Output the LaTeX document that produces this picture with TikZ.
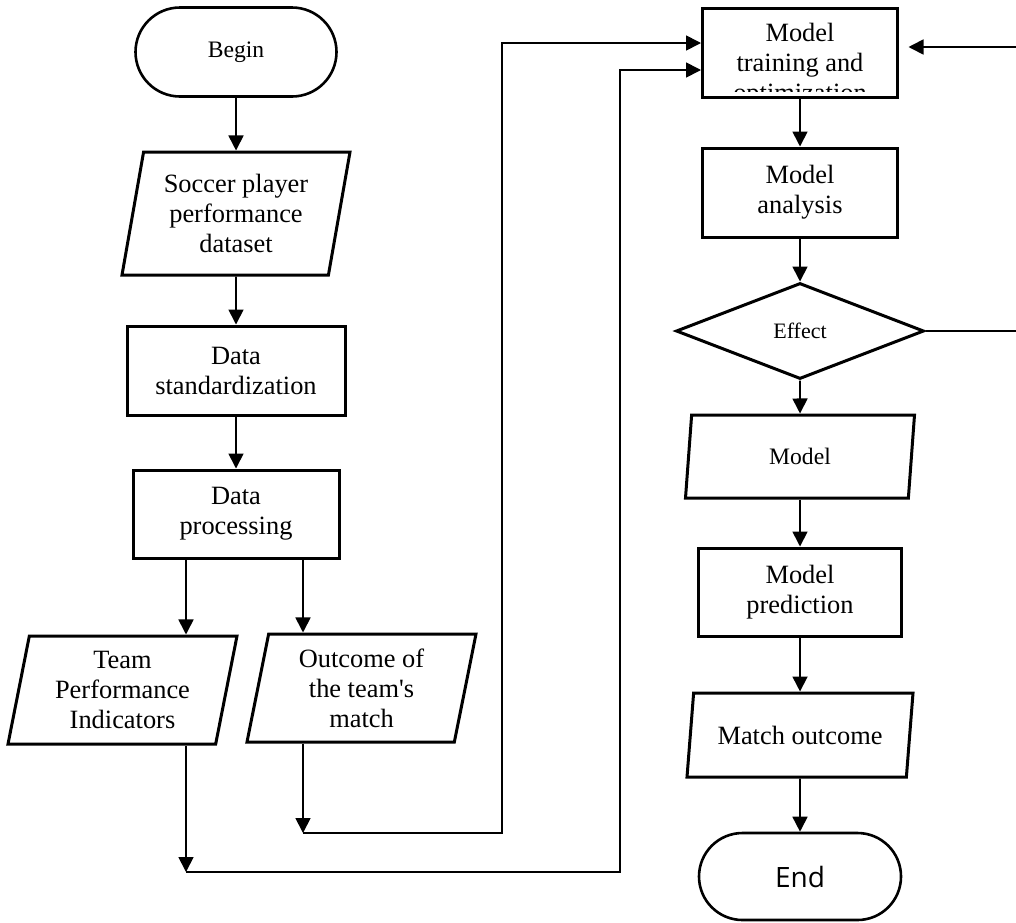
\documentclass[tikz,border=0pt]{standalone}
\usepackage{fontspec}
\setmainfont{Liberation Serif}
\newfontfamily\endfont{Open Sans}
\usetikzlibrary{arrows.meta,shapes.geometric,shapes.misc}
\tikzset{
  txtmain/.style  = {font=\fontsize{13.2}{15}\selectfont, align=center},
  txtsmall/.style = {font=\fontsize{11.8}{13}\selectfont, align=center},
  proc/.style     = {draw, line width=1.5pt, inner sep=2pt, txtmain},
  term/.style     = {draw, rounded rectangle, line width=1.3pt, inner sep=2pt},
  iobox/.style    = {draw, trapezium, trapezium left angle=76, trapezium right angle=104,
                     trapezium stretches body, line width=1.5pt, inner sep=2pt, txtmain},
  dec/.style      = {draw, diamond, line width=1.5pt, inner sep=0pt,
                     font=\fontsize{11}{13}\selectfont},
  ln/.style       = {line width=0.85pt},
  arr/.style      = {ln, -{Triangle[length=7.5pt,width=7.5pt]}},
}
\begin{document}
\begin{tikzpicture}[x=0.5pt, y=-0.5pt]
  \useasboundingbox (0,0) rectangle (1016,922);

  % --- data preparation column ---
  \node[term, txtsmall, minimum width=104.5pt, minimum height=44.5pt] (begin) at (236,52) {Begin};
  \node[iobox, minimum width=114pt, minimum height=61.5pt] (spd) at (236,213.5) {Soccer player\\performance\\dataset};
  \node[proc, minimum width=109pt, minimum height=44.5pt] (std) at (236,370.5) {Data\\standardization};
  \node[proc, minimum width=103pt, minimum height=44pt] (dp) at (236,514) {Data\\processing};
  \node[iobox, minimum width=114.5pt, minimum height=54pt] (tpi) at (122.5,690) {Team\\Performance\\Indicators};
  \node[iobox, minimum width=114.5pt, minimum height=54pt] (otm) at (361.5,688) {Outcome of\\the team\textquotesingle s\\match};

  \draw[arr] (begin) -- (spd);
  \draw[arr] (spd) -- (std);
  \draw[arr] (std) -- (dp);
  \draw[arr] ([xshift=-25pt]dp.south) -- ([xshift=-25pt]dp.south |- tpi.north);
  \draw[arr] ([xshift=33.5pt]dp.south) -- ([xshift=33.5pt]dp.south |- otm.north);

  % --- model column ---
  \node[proc, minimum width=97.5pt, minimum height=44.5pt] (mto) at (800,52.5) {};
  \begin{scope}
    \clip (mto.north west) rectangle ([yshift=3.5pt]mto.south east);
    \node[txtmain] (mtolbl) at ([yshift=-6.5pt]mto.center) {Model\\training and\\optimization};
  \end{scope}
  \node[proc, minimum width=97.5pt, minimum height=44.5pt] (man) at (800,192.5) {Model\\analysis};
  \node[dec, minimum width=124pt, minimum height=48pt] (eff) at (800,331) {Effect};
  \node[iobox, txtsmall, minimum width=114.5pt, minimum height=41.5pt] (mdl) at (800,456.5) {Model};
  \node[proc, minimum width=101.5pt, minimum height=44pt] (mpr) at (800,592) {Model\\prediction};
  \node[iobox, minimum width=113pt, minimum height=42pt] (mout) at (800,735) {Match outcome};
  \node[term, font=\endfont\fontsize{14}{16}\selectfont, minimum width=105pt, minimum height=43.5pt] (end) at (800,876.5) {End};

  \draw[arr] (mto) -- (man);
  \draw[arr] (man) -- (eff);
  \draw[arr] (eff) -- (mdl);
  \draw[arr] (mdl) -- (mpr);
  \draw[arr] (mpr) -- (mout);
  \draw[arr] (mout) -- (end);

  % --- feeds into training ---
  \coordinate (tb) at (186,872);
  \coordinate (tr) at (620,872);
  \coordinate (ob) at (303,833);
  \coordinate (or) at (502,833);
  \draw[arr] (tpi.south -| tb) -- (tb);
  \draw[arr] (tb) -- (tr) |- ([yshift=-8.75pt]mto.west);
  \draw[arr] (otm.south -| ob) -- (ob);
  \draw[arr] (ob) -- (or) |- ([yshift=4.75pt]mto.west);

  % --- loop back from the effect check ---
  \coordinate (fb) at (1020,331);
  \draw[arr, shorten >=4.75pt] (eff.east) -- (fb) |- ([yshift=2.75pt]mto.east);
\end{tikzpicture}
\end{document}
